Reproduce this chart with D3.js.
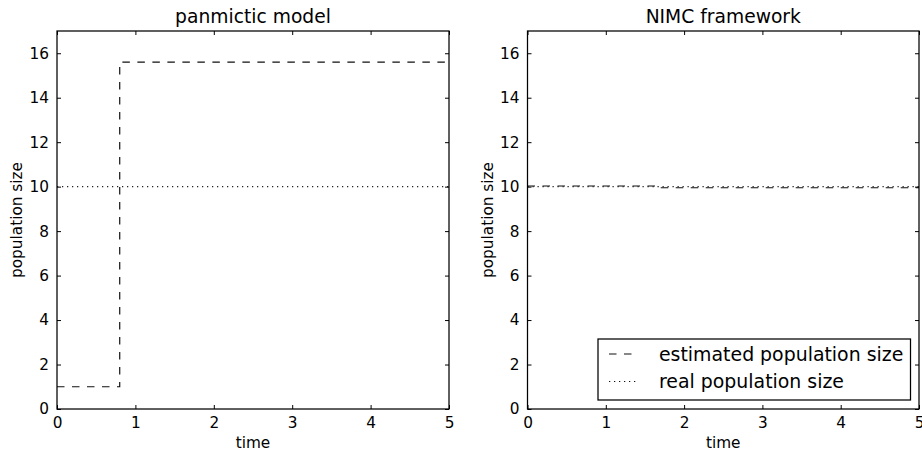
<!DOCTYPE html>
<html><head><meta charset="utf-8">
<script src="https://cdn.jsdelivr.net/npm/d3@7"></script>
<style>
html,body{margin:0;padding:0;background:#fff;}
svg{display:block;font-family:"DejaVu Sans",sans-serif;}
</style></head>
<body>
<svg id="c" width="922" height="452"></svg>
<script>
// ---- data ----
const titles = ["panmictic model", "NIMC framework"];
const xTicks = [0, 1, 2, 3, 4, 5];
const yTicks = [0, 2, 4, 6, 8, 10, 12, 14, 16];
const xLabel = "time";
const yLabel = "population size";
const legendLabels = ["estimated population size", "real population size"];
// panmictic model: estimated (step) and real population size
const panTime = [0, 0.8, 0.8, 5];
const panEstimated = [1, 1, 15.6, 15.6];
const panRealTime = [0, 5];
const panReal = [10, 10];
// NIMC framework
const nimcTime = [0, 1.63, 1.63, 5];
const nimcEstimated = [10.03, 10.03, 9.95, 9.95];
const nimcRealTime = [0, 5];
const nimcReal = [10, 10];

const panels = [
  {x0: 57, x1: 449, title: titles[0], est: [panTime, panEstimated], real: [panRealTime, panReal], legend: false},
  {x0: 527.5, x1: 919, title: titles[1], est: [nimcTime, nimcEstimated], real: [nimcRealTime, nimcReal], legend: true}
];
const yTop = 31, yBot = 409;
const svg = d3.select("#c");
const DASH = "7.5,7.5", DOT = "1.25,3.75";

panels.forEach((p, i) => {
  const x = d3.scaleLinear().domain([0, 5]).range([p.x0, p.x1]);
  const y = d3.scaleLinear().domain([0, 17]).range([yBot, yTop]);
  const g = svg.append("g");
  const clipId = "clip" + i;
  svg.append("clipPath").attr("id", clipId).append("rect")
    .attr("x", p.x0).attr("y", yTop).attr("width", p.x1 - p.x0).attr("height", yBot - yTop);
  const line = d3.line().x(d => x(d[0])).y(d => y(d[1]));
  const estPts = p.est[0].map((t, k) => [t, p.est[1][k]]);
  const realPts = p.real[0].map((t, k) => [t, p.real[1][k]]);
  const lg = g.append("g").attr("clip-path", `url(#${clipId})`);
  lg.append("path").attr("d", line(estPts)).attr("fill", "none").attr("stroke", "#111")
    .attr("stroke-width", 1.2).attr("stroke-dasharray", DASH);
  lg.append("path").attr("d", line(realPts)).attr("fill", "none").attr("stroke", "#222")
    .attr("stroke-width", 1.1).attr("stroke-dasharray", DOT);

  // axes with inward ticks, all four sides
  const axB = d3.axisBottom(x).tickValues(xTicks).tickSizeInner(-4).tickSizeOuter(0).tickPadding(8).tickFormat(d3.format("d"));
  const axT = d3.axisTop(x).tickValues(xTicks).tickSizeInner(-4).tickSizeOuter(0).tickFormat("");
  const axL = d3.axisLeft(y).tickValues(yTicks).tickSizeInner(-4).tickSizeOuter(0).tickPadding(8).tickFormat(d3.format("d"));
  const axR = d3.axisRight(y).tickValues(yTicks).tickSizeInner(-4).tickSizeOuter(0).tickFormat("");
  const gb = g.append("g").attr("transform", `translate(0,${yBot})`).call(axB);
  const gt = g.append("g").attr("transform", `translate(0,${yTop})`).call(axT);
  const gl = g.append("g").attr("transform", `translate(${p.x0},0)`).call(axL);
  const gr = g.append("g").attr("transform", `translate(${p.x1},0)`).call(axR);
  [gb, gt, gl, gr].forEach(a => {
    a.select(".domain").remove();
    a.selectAll(".tick line").attr("stroke", "#000").attr("stroke-width", 1);
    a.selectAll(".tick text").attr("fill", "#000").attr("font-size", 15.3).attr("font-family", "DejaVu Sans");
  });
  gb.selectAll(".tick text").attr("dy", "0.75em");
  g.append("rect").attr("x", p.x0).attr("y", yTop).attr("width", p.x1 - p.x0).attr("height", yBot - yTop)
    .attr("fill", "none").attr("stroke", "#000").attr("stroke-width", 1.25);

  g.append("text").attr("x", (p.x0 + p.x1) / 2).attr("y", 23).attr("text-anchor", "middle")
    .attr("font-size", 18.7).attr("fill", "#000").text(p.title);
  g.append("text").attr("x", (p.x0 + p.x1) / 2).attr("y", 448).attr("text-anchor", "middle")
    .attr("font-size", 15.3).attr("fill", "#000").text(xLabel);
  g.append("text").attr("transform", `translate(${p.x0 - 35},${(yTop + yBot) / 2}) rotate(-90)`)
    .attr("text-anchor", "middle").attr("font-size", 15.3).attr("fill", "#000").text(yLabel);

  if (p.legend) {
    const lx0 = 598, ly0 = 339, lw = 312.5, lh = 61;
    const lgd = g.append("g");
    lgd.append("rect").attr("x", lx0).attr("y", ly0).attr("width", lw).attr("height", lh)
      .attr("fill", "#fff").attr("stroke", "#000").attr("stroke-width", 1.25);
    const dashes = [DASH, DOT];
    const rowsY = [354, 381.5];
    legendLabels.forEach((lab, k) => {
      lgd.append("line").attr("x1", 609).attr("x2", 638).attr("y1", rowsY[k]).attr("y2", rowsY[k])
        .attr("stroke", "#111").attr("stroke-width", 1.2).attr("stroke-dasharray", dashes[k]);
      lgd.append("text").attr("x", 659).attr("y", rowsY[k]).attr("dy", "0.35em")
        .attr("font-size", 18.9).attr("fill", "#000").text(lab);
    });
  }
});
</script>
</body></html>
